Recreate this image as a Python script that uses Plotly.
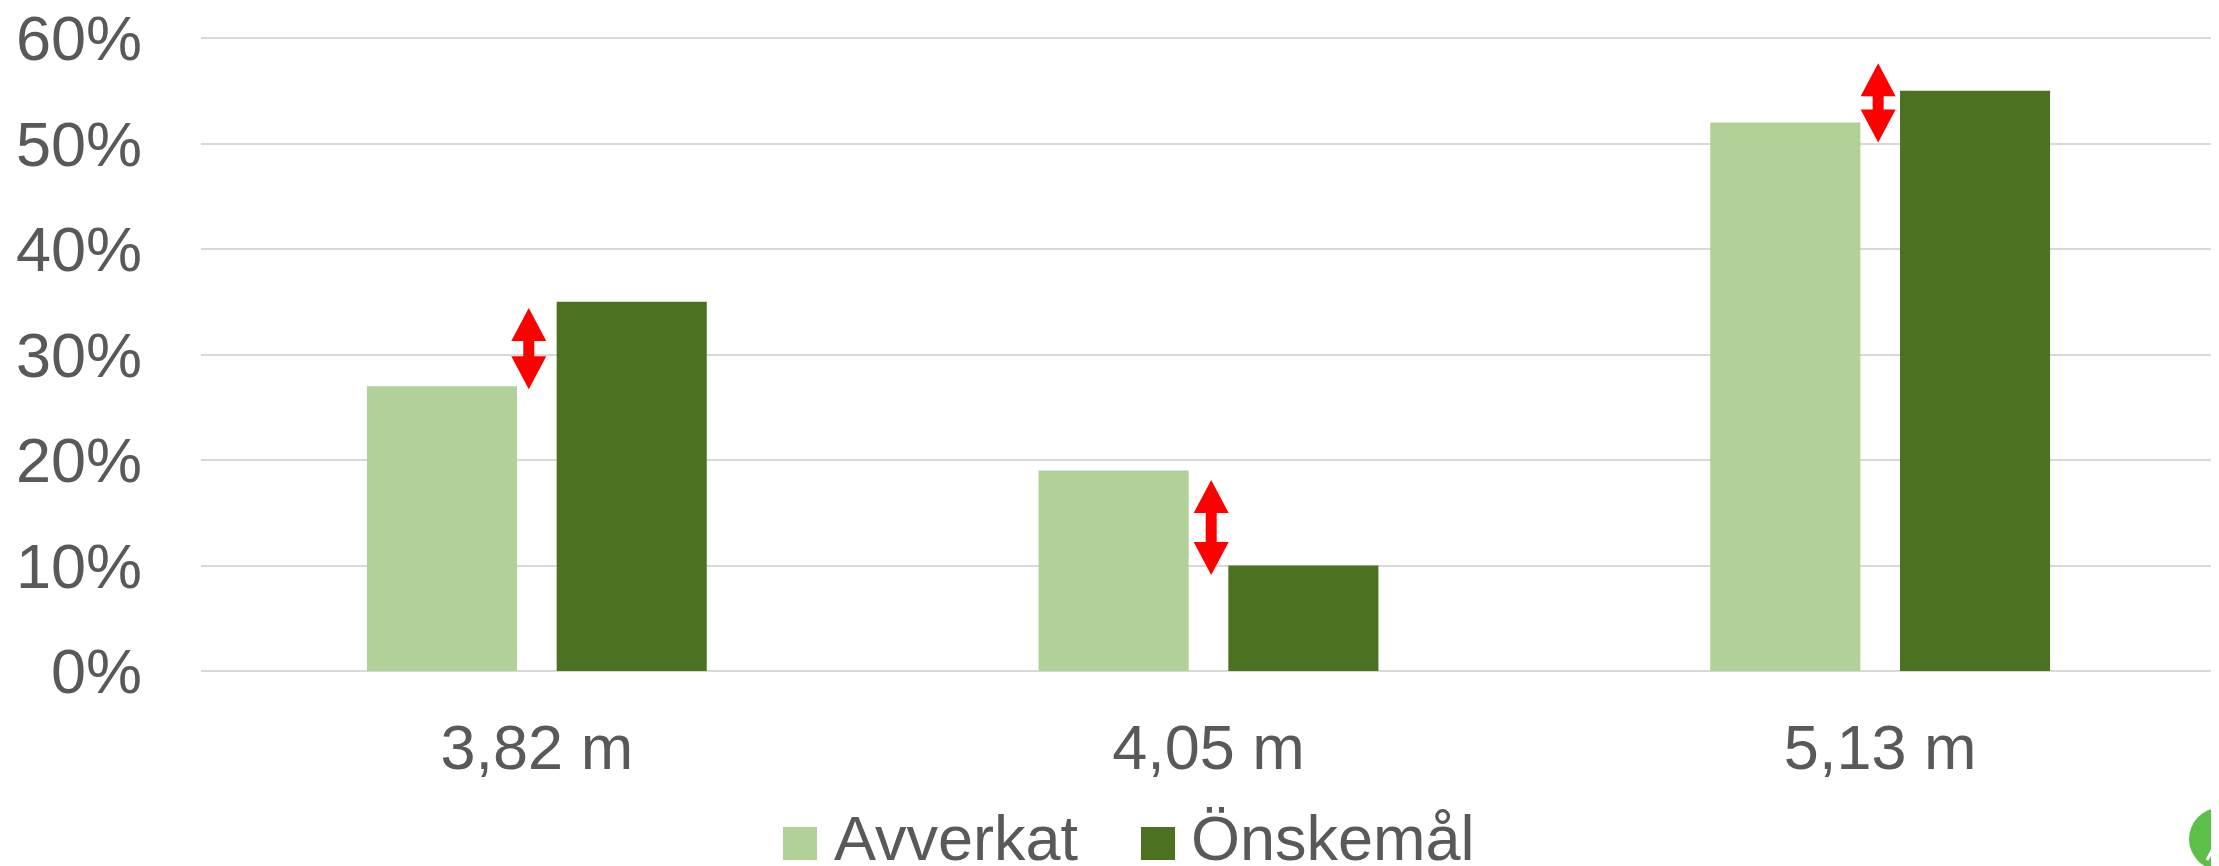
import plotly.graph_objects as go

# ---- data ----
categories = ["3,82 m", "4,05 m", "5,13 m"]
series_names = ["Avverkat", "Önskemål"]
avverkat = [27, 19, 52]
onskemal = [35, 10, 55]
# red double arrows (bottom / top tip, in % units) and their x offset from category centre
arrow_low = [26.7, 9.1, 50.1]
arrow_high = [34.4, 18.1, 57.6]
arrow_dx = [-0.012, 0.004, -0.003]
y_tickvals = [0, 10, 20, 30, 40, 50, 60]
y_ticktext = ["0%", "10%", "20%", "30%", "40%", "50%", "60%"]

# ---- styling ----
OFF = 8                      # default page body margin
W, H = 2219 - OFF, 866 - OFF
L, R, T, B = 193, 3, 29, 195
PW, PH = W - L - R, H - T - B
YMAX = 60.1
C_LIGHT = "#b1d199"
C_DARK = "#4b7220"
TXT = "#595959"
GRID = "#d9d9d9"
FONT = "Liberation Sans, Arial, sans-serif"
FS = 63

x_idx = list(range(len(categories)))
fig = go.Figure()
fig.add_trace(go.Bar(x=x_idx, y=avverkat, name=series_names[0], marker_color=C_LIGHT,
                     marker_line_width=0, showlegend=False))
fig.add_trace(go.Bar(x=x_idx, y=onskemal, name=series_names[1], marker_color=C_DARK,
                     marker_line_width=0, showlegend=False))

# arrows as filled polygons in data coordinates
px_x = PW / 3.0       # pixels per x unit
px_y = PH / YMAX      # pixels per y unit
head_h = 33 / px_y
head_w = 17.5 / px_x
shaft_w = 5.5 / px_x
for i in x_idx:
    cx = i + arrow_dx[i]
    lo, hi = arrow_low[i], arrow_high[i]
    xs = [cx, cx + head_w, cx + shaft_w, cx + shaft_w, cx + head_w, cx,
          cx - head_w, cx - shaft_w, cx - shaft_w, cx - head_w, cx]
    ys = [hi, hi - head_h, hi - head_h, lo + head_h, lo + head_h, lo,
          lo + head_h, lo + head_h, hi - head_h, hi - head_h, hi]
    fig.add_trace(go.Scatter(x=xs, y=ys, mode="lines", fill="toself",
                             fillcolor="#ff0000", line=dict(width=0, color="#ff0000"),
                             showlegend=False, hoverinfo="skip"))

def xp(px):   # page pixel -> paper x
    return (px - OFF - L) / PW

def yp(py):   # page pixel -> paper y
    return (H - B - (py - OFF)) / PH

# manual legend (large square swatches)
shapes = []
annotations = []
legend_items = [(783, 832, C_LIGHT, series_names[0]), (1141, 1189, C_DARK, series_names[1])]
for sq_x, txt_x, col, name in legend_items:
    shapes.append(dict(type="rect", xref="paper", yref="paper",
                       x0=xp(sq_x), x1=xp(sq_x + 34), y0=yp(860), y1=yp(827),
                       fillcolor=col, line=dict(width=0)))
    annotations.append(dict(xref="paper", yref="paper", x=xp(txt_x), y=yp(838),
                            text=name, showarrow=False, xanchor="left", yanchor="middle",
                            font=dict(family=FONT, size=FS, color=TXT)))

# corner logo (partially visible green disc)
shapes.append(dict(type="circle", xref="paper", yref="paper",
                   x0=xp(2189), x1=xp(2251), y0=yp(870), y1=yp(808),
                   fillcolor="#5cbf4a", line=dict(width=0), layer="above"))
shapes.append(dict(type="path", xref="paper", yref="paper",
                   path=f"M {xp(2207)},{yp(860)} L {xp(2222)},{yp(832)}",
                   line=dict(color="white", width=3), layer="above"))

fig.update_layout(
    width=W, height=H,
    margin=dict(l=L, r=R, t=T, b=B, pad=0, autoexpand=False),
    paper_bgcolor="white", plot_bgcolor="white",
    barmode="group", bargap=0.435, bargroupgap=0.209,
    font=dict(family=FONT, size=FS, color=TXT),
    showlegend=False,
    shapes=shapes, annotations=annotations,
    xaxis=dict(range=[-0.5, 2.5], tickvals=x_idx, ticktext=categories,
               showgrid=False, zeroline=False, showline=False, ticks="",
               ticklabelstandoff=34, fixedrange=True, ticklabeloverflow="allow",
               automargin=False,
               tickfont=dict(family=FONT, size=FS, color=TXT)),
    yaxis=dict(range=[0, YMAX], tickvals=y_tickvals, ticktext=y_ticktext,
               showgrid=True, gridcolor=GRID, gridwidth=2,
               zeroline=True, zerolinecolor=GRID, zerolinewidth=2,
               showline=False, ticks="", ticklabelstandoff=58,
               ticklabeloverflow="allow", automargin=False,
               tickfont=dict(family=FONT, size=FS, color=TXT)),
)

fig.write_html("out.html")
